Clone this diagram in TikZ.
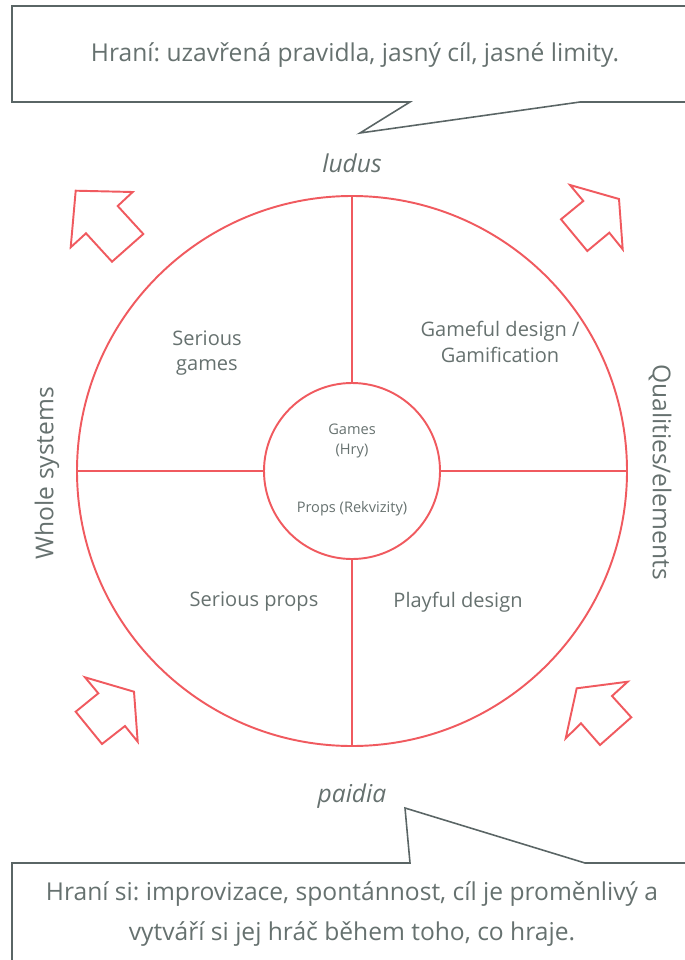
\documentclass[tikz,border=0pt]{standalone}
\usepackage{fontspec}
\setmainfont{Open Sans}
\frenchspacing
\definecolor{ringred}{HTML}{F05A5F}
\definecolor{textgray}{HTML}{66716F}
\definecolor{boxgray}{HTML}{5A6565}

\begin{document}
\begin{tikzpicture}[x=0.02cm, y=-0.02cm,
    ring/.style={line width=1.1pt, ringred},
    bubble/.style={line width=0.9pt, boxgray},
    quadlabel/.style={textgray, font=\fontsize{11.4}{14.5}\selectfont, align=center},
    corelabel/.style={textgray, font=\fontsize{8.3}{11.5}\selectfont, align=center},
    axislabel/.style={textgray, font=\fontsize{14}{16}\selectfont}]

    \useasboundingbox (0,0) rectangle (685,960);

    % Coordinates
    \coordinate (O) at (352,471);
    \coordinate (top) at (352,196);
    \coordinate (bottom) at (352,746);
    \coordinate (left) at (77,471);
    \coordinate (right) at (627,471);
    \coordinate (intop) at (352,383);
    \coordinate (inbottom) at (352,559);
    \coordinate (inleft) at (264,471);
    \coordinate (inright) at (440,471);

    % Circles and Cross
    \draw [ring] (O) circle (275);
    \draw [ring] (O) circle (88);
    \draw [ring] (top) -- (intop);
    \draw [ring] (inbottom) -- (bottom);
    \draw [ring] (left) -- (inleft);
    \draw [ring] (inright) -- (right);

    % Arrows
    \draw [ring] (75.7,190.7) -- (132.7,192) -- (117.7,206) -- (143.3,234) -- (112,261.7) -- (86,233.3) -- (70.7,247.3) -- cycle;
    \draw [ring] (619,199) -- (622.7,249.3) -- (609.3,232.7) -- (587.3,251) -- (561,219.3) -- (583.3,201) -- (570,185) -- cycle;
    \draw [ring] (134,691.7) -- (137.7,741.7) -- (125,726) -- (102,744) -- (75.7,711.7) -- (98.3,693.3) -- (85,677.3) -- cycle;
    \draw [ring] (576.7,688.3) -- (627.7,681.7) -- (612,696) -- (631.3,717.3) -- (600,745) -- (581,723.3) -- (565.7,738.3) -- cycle;

    % Speech Bubbles
    \draw [bubble] (685,6) -- (12,6) -- (12,102) -- (410,102) -- (360,133) -- (580,102) -- (685,102);
    \draw [bubble] (12,960) -- (12,863) -- (410,863) -- (405,808) -- (585,863) -- (685,863);
    \node [textgray, font=\fontsize{14}{15}\selectfont] (ludustext) at (355,55) {Hraní: uzavřená pravidla, jasný cíl, jasné limity.};
    \node [textgray, font=\fontsize{14}{22.5}\selectfont, align=center] (paidiatext) at (352,914) {Hraní si: improvizace, spontánnost, cíl je proměnlivý a\\vytváří si jej hráč během toho, co hraje.};

    % Axis Labels
    \node [axislabel, font=\fontsize{14}{16}\selectfont\itshape] (ludus) at (352,163) {ludus};
    \node [axislabel, font=\fontsize{14}{16}\selectfont\itshape] (paidia) at (352,796) {paidia};
    \node [axislabel, rotate=90] (whole) at (47,473) {Whole systems};
    \node [axislabel, rotate=-90] (qualities) at (660,472) {Qualities/elements};

    % Quadrants
    \node [quadlabel] (seriousgames) at (207,353) {Serious\\games};
    \node [quadlabel] (gameful) at (500,342) {Gameful design /\\Gamification};
    \node [quadlabel] (seriousprops) at (254,602) {Serious props};
    \node [quadlabel] (playful) at (458,602) {Playful design};

    % Core
    \node [corelabel] (games) at (352,441) {Games\\(Hry)};
    \node [corelabel] (props) at (352,509) {Props (Rekvizity)};

\end{tikzpicture}
\end{document}
